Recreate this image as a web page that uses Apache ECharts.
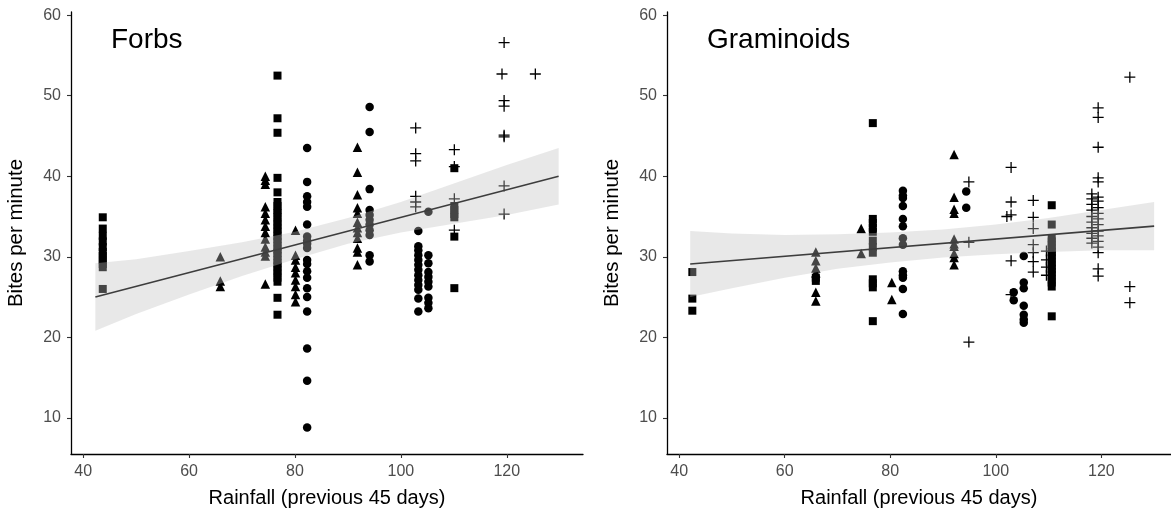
<!DOCTYPE html>
<html><head><meta charset="utf-8">
<script src="https://cdn.jsdelivr.net/npm/echarts@6/dist/echarts.min.js"></script>
<style>html,body{margin:0;padding:0;background:#fff}#c{width:1171px;height:520px}</style>
</head><body><div id="c"></div>
<script>
// ---- data ----
const panelTitles = ['Forbs', 'Graminoids'];
const xTicks = [40, 60, 80, 100, 120];
const yTicks = [10, 20, 30, 40, 50, 60];
const xTitle = 'Rainfall (previous 45 days)';
const yTitle = 'Bites per minute';

// columns: [rainfall, [bites per minute...]]
const forbsCircles = [
  [82.3, [43.5, 39.3, 37.5, 36.8, 36.2, 34.0, 32.5, 32.0, 31.6, 31.1, 29.6, 29.1, 28.2, 27.4, 26.1, 25.0, 23.2, 18.6, 14.6, 8.8]],
  [94.1, [48.6, 45.5, 38.4, 35.8, 35.2, 34.6, 34.0, 33.3, 32.7, 30.2, 29.4]],
  [103.3, [33.2, 31.3, 30.8, 30.2, 29.6, 29.0, 28.4, 27.7, 27.1, 26.5, 25.9, 24.8, 23.2]],
  [105.2, [35.6, 30.2, 29.2, 28.1, 27.5, 26.9, 26.3, 24.9, 24.3, 23.6]]
];
const forbsTriangles = [
  [65.9, [30.0, 27.0, 26.3]],
  [74.4, [40.0, 39.5, 39.0, 36.2, 35.4, 34.6, 33.8, 33.0, 32.2, 31.2, 30.6, 30.1, 26.6]],
  [80.1, [33.3, 30.2, 29.6, 28.7, 28.0, 27.1, 26.3, 25.3, 24.4]],
  [91.8, [43.6, 40.5, 37.7, 36.1, 35.4, 34.3, 33.6, 33.0, 32.3, 31.1, 30.6, 29.0]]
];
const forbsSquares = [
  [43.7, [34.9, 33.5, 32.6, 31.9, 31.2, 30.6, 30.1, 29.6, 29.1, 28.7, 26.0]],
  [76.7, [52.5, 47.2, 45.4, 39.8, 38.0, 36.8, 36.3, 35.8, 35.4, 34.9, 34.4, 34.0, 33.5, 33.1, 32.6, 32.2, 31.8, 31.3, 30.9, 30.5, 30.1, 29.6, 29.2, 28.8, 28.3, 27.9, 27.4, 26.9, 24.9, 22.8]],
  [110.1, [41.0, 36.3, 35.8, 35.3, 34.9, 32.5, 26.1]]
];
const forbsCrosses = [
  [102.8, [46.0, 42.8, 41.9, 37.5, 36.8, 36.2]],
  [110.1, [43.3, 41.2, 37.2, 33.3]],
  [119.5, [56.6, 49.4, 48.7, 45.1, 44.9, 38.8, 35.3]],
  [119.1, [52.7]],
  [125.4, [52.7]]
];
const forbsBandX  = [42.3, 50, 60, 70, 80, 90, 100, 110, 120, 129.8];
const forbsBandHi = [29.2, 29.7, 30.7, 31.8, 33.1, 34.8, 36.8, 39.1, 41.4, 43.5];
const forbsBandLo = [20.8, 22.9, 25.3, 27.6, 29.7, 31.6, 33.0, 34.1, 35.2, 36.5];
const forbsLineX = [42.3, 129.8];
const forbsLineY = [25.0, 40.0];

const gramSquares = [
  [42.5, [28.1, 24.8, 23.3]],
  [65.9, [27.4, 27.0]],
  [76.7, [46.6, 34.7, 34.2, 33.6, 33.1, 32.0, 31.2, 30.5, 27.2, 26.7, 26.2, 22.0]],
  [110.6, [36.4, 34.0, 32.3, 31.9, 31.4, 31.0, 30.6, 30.2, 29.8, 29.3, 28.9, 28.5, 28.1, 27.7, 27.2, 26.8, 26.3, 22.6]]
];
const gramTriangles = [
  [65.9, [30.6, 29.5, 28.6, 28.0, 25.6, 24.5]],
  [74.5, [33.5, 30.4]],
  [80.3, [26.8, 24.7]],
  [92.1, [42.7, 37.4, 35.9, 35.4, 32.2, 31.6, 31.3, 30.4, 29.9, 29.0]]
];
const gramCircles = [
  [82.4, [38.2, 37.6, 37.3, 36.3, 34.7, 33.8, 32.3, 31.5, 28.2, 27.7, 27.4, 26.0, 22.9]],
  [94.4, [38.1, 36.1]],
  [103.4, [25.6, 24.6]],
  [105.3, [30.1, 26.8, 26.1, 23.9, 22.8, 22.2, 21.8]]
];
const gramCrosses = [
  [94.9, [39.3, 31.8, 19.4]],
  [102.9, [41.1, 36.8, 35.2, 29.5, 25.3]],
  [102.1, [35.0]],
  [107.1, [37.0, 34.9, 33.5, 31.5, 30.5, 29.4, 28.1]],
  [109.6, [30.7, 29.6, 28.7, 27.7]],
  [118.2, [37.8, 37.2, 36.5, 35.8, 35.0, 34.3, 33.6, 32.9, 32.3, 31.7]],
  [119.4, [48.5, 47.3, 43.6, 39.8, 39.3, 37.4, 36.9, 36.1, 35.4, 34.7, 34.0, 33.2, 32.6, 31.9, 31.2, 30.5, 28.5, 27.6]],
  [125.4, [52.3, 26.3, 24.3]]
];
const gramBandX  = [42.1, 50, 60, 70, 80, 90, 100, 110, 120, 130];
const gramBandHi = [33.2, 32.9, 32.7, 32.8, 33.0, 33.4, 34.0, 34.8, 35.8, 36.8];
const gramBandLo = [25.0, 26.1, 27.4, 28.5, 29.3, 29.9, 30.3, 30.6, 30.8, 30.8];
const gramLineX = [42.1, 130];
const gramLineY = [29.1, 33.8];

// ---- chart ----
const FONT = '"Liberation Sans", Arial, sans-serif';
function flat(cols) { const out = []; cols.forEach(c => c[1].forEach(y => out.push([c[0], y]))); return out; }
const CROSS = 'path://M0,5L10,5M5,0L5,10';

function scatter(idx, cols, symbol, size) {
  const isCross = symbol === CROSS;
  return {
    type: 'scatter', xAxisIndex: idx, yAxisIndex: idx, z: 2, silent: true,
    symbol: symbol, symbolSize: size, data: flat(cols),
    itemStyle: isCross ? { color: 'rgba(0,0,0,0)', borderColor: '#000', borderWidth: 1.3, opacity: 1 } : { color: '#000', opacity: 1 }
  };
}
function band(idx, bx, hi, lo) {
  const data = bx.map((x, i) => [x, hi[i], lo[i]]);
  return {
    type: 'custom', xAxisIndex: idx, yAxisIndex: idx, z: 3, silent: true,
    data: data, encode: { x: 0, y: [1, 2] },
    renderItem: function (params, api) {
      if (params.dataIndex !== 0) return null;
      const pts = [];
      for (let i = 0; i < bx.length; i++) pts.push(api.coord([bx[i], hi[i]]));
      for (let i = bx.length - 1; i >= 0; i--) pts.push(api.coord([bx[i], lo[i]]));
      return { type: 'polygon', shape: { points: pts }, style: { fill: 'rgba(190,190,190,0.36)', stroke: null } };
    }
  };
}
function fitLine(idx, lx, ly) {
  return {
    type: 'line', xAxisIndex: idx, yAxisIndex: idx, z: 4, silent: true, symbol: 'none',
    data: lx.map((x, i) => [x, ly[i]]), lineStyle: { color: '#3d3d3d', width: 1.6 }
  };
}
function xAxis(idx, max) {
  return {
    type: 'value', gridIndex: idx, min: 37.7, max: max,
    name: xTitle, nameLocation: 'middle', nameGap: 34,
    nameTextStyle: { fontFamily: FONT, fontSize: 20, color: '#000' },
    axisLine: { show: true, lineStyle: { color: '#000', width: 1.3 } },
    axisTick: { show: true, length: 4, lineStyle: { color: '#333', width: 1.1 }, customValues: xTicks },
    axisLabel: { fontFamily: FONT, fontSize: 16, color: '#4d4d4d', margin: 10, customValues: xTicks },
    splitLine: { show: false }
  };
}
function yAxis(idx) {
  return {
    type: 'value', gridIndex: idx, min: 5.5, max: 60.4,
    name: yTitle, nameLocation: 'middle', nameGap: 44,
    nameTextStyle: { fontFamily: FONT, fontSize: 20.5, color: '#000' },
    axisLine: { show: true, lineStyle: { color: '#000', width: 1.3 } },
    axisTick: { show: true, length: 4, lineStyle: { color: '#333', width: 1.1 }, customValues: yTicks },
    axisLabel: { fontFamily: FONT, fontSize: 16, color: '#4d4d4d', margin: 10, customValues: yTicks },
    splitLine: { show: false }
  };
}

const chart = echarts.init(document.getElementById('c'), null, { renderer: 'canvas' });
chart.setOption({
  animation: false,
  backgroundColor: '#fff',
  grid: [
    { left: 71, top: 12, width: 512, height: 442 },
    { left: 667, top: 12, width: 504, height: 442 }
  ],
  xAxis: [xAxis(0, 134.4), xAxis(1, 133.2)],
  yAxis: [yAxis(0), yAxis(1)],
  graphic: [
    { type: 'text', left: 111, top: 26, style: { text: panelTitles[0], font: '28px ' + FONT, fill: '#000' } },
    { type: 'text', left: 707, top: 26, style: { text: panelTitles[1], font: '28px ' + FONT, fill: '#000' } }
  ],
  series: [
    scatter(0, forbsCircles, 'circle', 8.5),
    scatter(0, forbsTriangles, 'triangle', 9.5),
    scatter(0, forbsSquares, 'rect', 8),
    scatter(0, forbsCrosses, CROSS, 11),
    band(0, forbsBandX, forbsBandHi, forbsBandLo),
    fitLine(0, forbsLineX, forbsLineY),
    scatter(1, gramCircles, 'circle', 8.5),
    scatter(1, gramTriangles, 'triangle', 9.5),
    scatter(1, gramSquares, 'rect', 8),
    scatter(1, gramCrosses, CROSS, 11),
    band(1, gramBandX, gramBandHi, gramBandLo),
    fitLine(1, gramLineX, gramLineY)
  ]
});
</script></body></html>
